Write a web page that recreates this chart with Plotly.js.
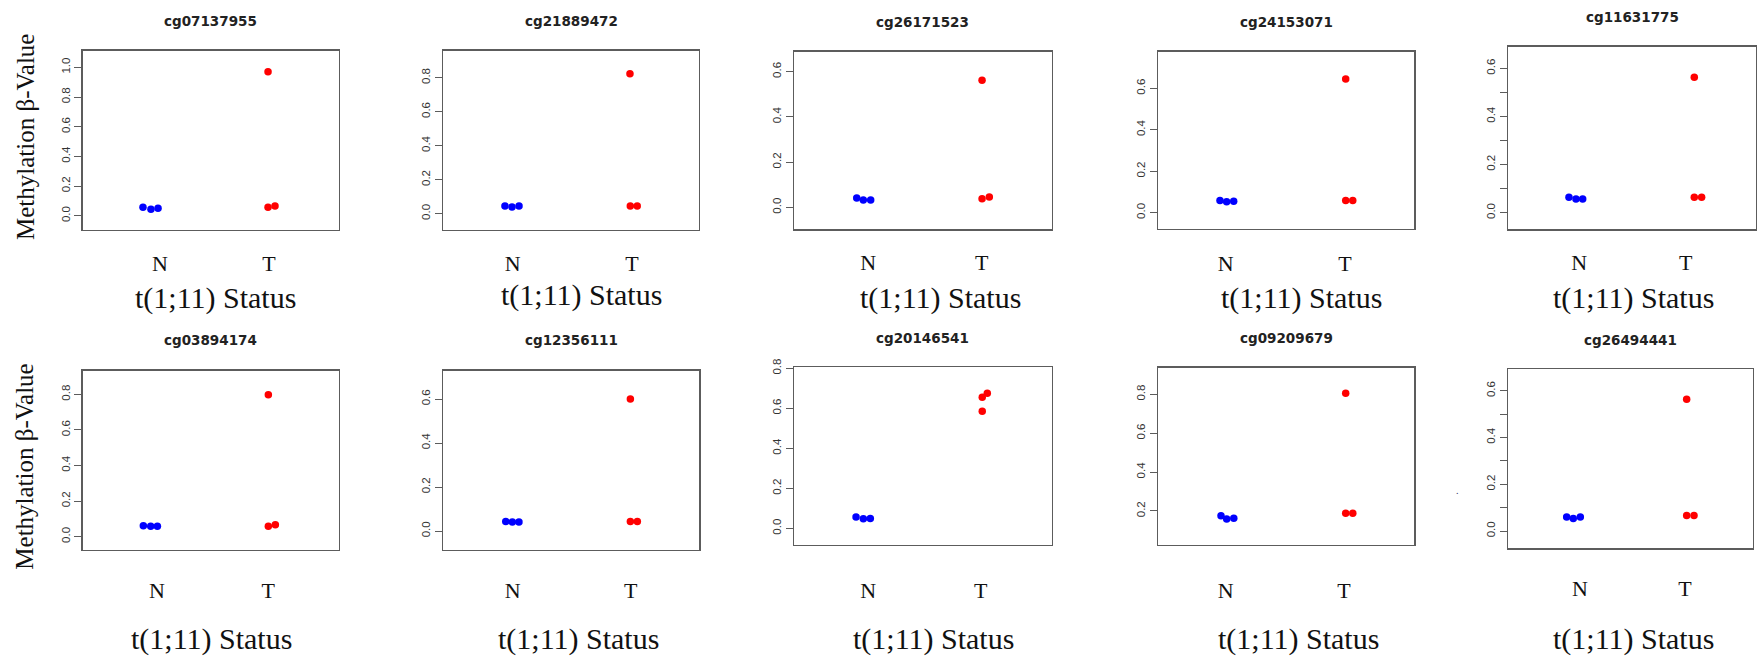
<!DOCTYPE html>
<html>
<head>
<meta charset="utf-8">
<script src="https://cdn.plot.ly/plotly-3.0.1.min.js"></script>
<style>
  html, body { margin: 0; padding: 0; background: #ffffff; }
  #chart { width: 1762px; height: 657px; }
</style>
</head>
<body>
<div id="chart"></div>
<script>
// CpG probes, one strip chart per probe
const probes = [
  'cg07137955', 'cg21889472', 'cg26171523', 'cg24153071', 'cg11631775',
  'cg03894174', 'cg12356111', 'cg20146541', 'cg09209679', 'cg26494441'
];

// group labels on the x axis (normal / t(1;11) positive)
const groupLabels = ['N', 'T'];

// methylation beta values, normal samples
const normalValues = [
  [0.057, 0.043, 0.050],
  [0.045, 0.040, 0.045],
  [0.041, 0.032, 0.032],
  [0.058, 0.052, 0.055],
  [0.064, 0.057, 0.057],
  [0.062, 0.058, 0.058],
  [0.044, 0.041, 0.041],
  [0.057, 0.048, 0.050],
  [0.176, 0.159, 0.162],
  [0.060, 0.054, 0.060]
];

// methylation beta values, t(1;11) samples
const tumorValues = [
  [0.970, 0.057, 0.065],
  [0.824, 0.045, 0.045],
  [0.562, 0.038, 0.046],
  [0.645, 0.058, 0.058],
  [0.563, 0.064, 0.064],
  [0.798, 0.058, 0.067],
  [0.600, 0.044, 0.044],
  [0.655, 0.675, 0.585],
  [0.805, 0.188, 0.188],
  [0.564, 0.066, 0.066]
];

// horizontal jitter of each point around its group position
const normalJitter = [
  [-0.156, -0.083, -0.018],
  [-0.065, -0.006, 0.053],
  [-0.102, -0.044, 0.021],
  [-0.048, 0.008, 0.067],
  [-0.097, -0.031, 0.032],
  [-0.123, -0.057, 0.003],
  [-0.059, -0.003, 0.053],
  [-0.109, -0.044, 0.018],
  [-0.040, 0.008, 0.068],
  [-0.127, -0.064, 0.003]
];
const tumorJitter = [
  [-0.009, -0.009, 0.055],
  [-0.017, -0.014, 0.044],
  [0.003, 0.003, 0.067],
  [0.006, 0.006, 0.065],
  [0.081, 0.081, 0.150],
  [0.000, 0.000, 0.063],
  [-0.003, -0.003, 0.056],
  [0.014, 0.059, 0.014],
  [0.014, 0.014, 0.074],
  [0.016, 0.016, 0.086]
];

// ---- page geometry (pixels) ----
const W = 1762, H = 657;
// plot frame of each panel: [left, right, top, bottom]
const frames = [
  [82.7, 339.0, 50.7, 230.0],
  [443.3, 699.0, 50.7, 230.0],
  [794.0, 1051.7, 51.7, 229.3],
  [1158.3, 1414.3, 51.7, 229.0],
  [1508.3, 1756.0, 46.7, 229.3],
  [82.7, 339.0, 370.7, 550.0],
  [443.3, 699.3, 370.7, 550.0],
  [794.0, 1051.7, 367.3, 545.0],
  [1158.3, 1414.3, 367.7, 545.0],
  [1508.3, 1752.7, 369.0, 548.3]
];
const xRanges = [
  [0.291, 2.642], [0.418, 2.562], [0.345, 2.617], [0.435, 2.581], [0.333, 2.661],
  [0.332, 2.635], [0.412, 2.581], [0.339, 2.632], [0.430, 2.594], [0.317, 2.645]
];
const yRanges = [
  [-0.096, 1.112], [-0.096, 0.959], [-0.097, 0.688], [-0.079, 0.777], [-0.069, 0.690],
  [-0.075, 0.933], [-0.086, 0.729], [-0.083, 0.805], [0.025, 0.937], [-0.074, 0.693]
];
const titleY = [20.7, 20.7, 21.7, 21.7, 16.7, 340, 340, 337.5, 338.3, 340];
const groupLabelY = [263, 263, 263, 263, 263, 590, 590, 590, 590, 588.3];
const statusPos = [
  [215, 298], [581.7, 295], [940, 298], [1301.7, 298], [1633.3, 297.7],
  [211, 638.5], [578.3, 638.5], [933.3, 638.5], [1298.3, 638.5], [1633.3, 638.5]
];
const fineTicks = [false, false, false, false, true, false, false, false, false, true];

const frameColor = '#5c5c5c';
const serif = 'Liberation Serif, Times New Roman, serif';

const traces = [];
const layout = {
  width: W, height: H,
  margin: { l: 0, r: 0, t: 0, b: 0 },
  paper_bgcolor: '#ffffff',
  plot_bgcolor: '#ffffff',
  showlegend: false,
  annotations: []
};

probes.forEach((probe, i) => {
  const n = i + 1;
  const xa = n === 1 ? 'x' : 'x' + n;
  const ya = n === 1 ? 'y' : 'y' + n;
  const [L, R, T, B] = frames[i];

  traces.push({
    type: 'scatter', mode: 'markers', xaxis: xa, yaxis: ya,
    x: normalJitter[i].map(j => 1 + j),
    y: normalValues[i],
    marker: { color: '#0000ff', size: 7.5, line: { width: 0 } },
    cliponaxis: false
  });
  traces.push({
    type: 'scatter', mode: 'markers', xaxis: xa, yaxis: ya,
    x: tumorJitter[i].map(j => 2 + j),
    y: tumorValues[i],
    marker: { color: '#ff0000', size: 7.5, line: { width: 0 } },
    cliponaxis: false
  });

  layout[n === 1 ? 'xaxis' : 'xaxis' + n] = {
    domain: [L / W, R / W],
    range: xRanges[i],
    anchor: ya,
    tickmode: 'array',
    tickvals: [1, 2],
    ticktext: groupLabels,
    ticks: '',
    ticklabelstandoff: Math.max(0, Math.round(groupLabelY[i] - B - 20.2)),
    tickfont: { family: serif, size: 22, color: '#111111' },
    showgrid: false, zeroline: false,
    showline: true, mirror: true, linecolor: frameColor, linewidth: 1.3,
    fixedrange: true
  };

  const yax = {
    domain: [1 - B / H, 1 - T / H],
    range: yRanges[i],
    anchor: xa,
    tick0: 0, dtick: 0.2,
    tickformat: '.1f',
    ticks: 'outside', ticklen: 7, tickwidth: 1, tickcolor: frameColor,
    tickangle: -90,
    tickfont: { family: 'Liberation Sans, Arial, sans-serif', size: 11.5, color: '#333333' },
    showgrid: false, zeroline: false,
    showline: true, mirror: true, linecolor: frameColor, linewidth: 1.3,
    fixedrange: true
  };
  if (fineTicks[i]) {
    yax.minor = { tick0: 0, dtick: 0.1, ticks: 'outside', ticklen: 7, tickwidth: 1,
                  tickcolor: frameColor, showgrid: false };
  }
  layout[n === 1 ? 'yaxis' : 'yaxis' + n] = yax;

  // panel title
  layout.annotations.push({
    text: '<b>' + probe + '</b>',
    xref: 'paper', yref: 'paper',
    x: (L + R) / 2 / W, y: 1 - titleY[i] / H,
    xanchor: 'center', yanchor: 'middle', showarrow: false,
    font: { family: 'DejaVu Sans, sans-serif', size: 13.5, color: '#222222' }
  });

  // x axis caption
  layout.annotations.push({
    text: 't(1;11) Status',
    xref: 'paper', yref: 'paper',
    x: statusPos[i][0] / W, y: 1 - statusPos[i][1] / H,
    xanchor: 'center', yanchor: 'middle', showarrow: false,
    borderpad: 0,
    font: { family: serif, size: 30, color: '#111111' }
  });
});

// y axis caption, left column only
[137, 466.7].forEach(cy => {
  layout.annotations.push({
    text: 'Methylation β-Value',
    xref: 'paper', yref: 'paper',
    x: 25 / W, y: 1 - cy / H,
    xanchor: 'center', yanchor: 'middle', showarrow: false,
    textangle: -90,
    font: { family: serif, size: 25, color: '#111111' }
  });
});

// small stray mark left of the last panel
layout.annotations.push({
  text: '.',
  xref: 'paper', yref: 'paper',
  x: 1457.7 / W, y: 1 - 490 / H,
  xanchor: 'center', yanchor: 'middle', showarrow: false,
  font: { family: serif, size: 10, color: '#333366' }
});

Plotly.newPlot('chart', traces, layout, { staticPlot: true, displayModeBar: false });
</script>
</body>
</html>
